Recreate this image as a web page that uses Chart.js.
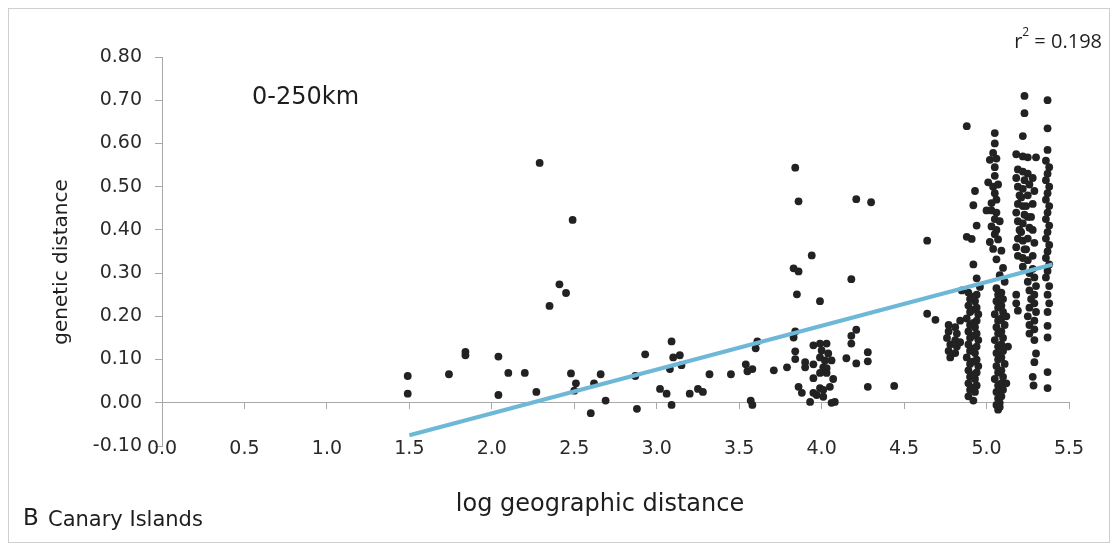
<!DOCTYPE html>
<html lang="en">
<head>
<meta charset="UTF-8">
<title>Canary Islands - genetic vs log geographic distance</title>
<script src="https://cdn.jsdelivr.net/npm/chart.js"></script>
<style>
  body { margin: 0; background: #fff; }
  #wrap { width: 1118px; height: 550px; position: relative; }
</style>
</head>
<body>
<div id="wrap"><canvas id="distChart"></canvas></div>
<script>
// [log geographic distance, genetic distance] pairs
const ptsSpread = [
  [1.49,0.062],[1.49,0.021],[1.74,0.066],[1.84,0.118],[1.84,0.110],[2.04,0.107],[2.04,0.018],
  [2.10,0.069],[2.20,0.069],[2.27,0.025],[2.29,0.555],[2.35,0.224],[2.41,0.274],[2.45,0.254],
  [2.49,0.423],[2.48,0.068],[2.51,0.045],[2.50,0.028],[2.60,-0.024],[2.62,0.045],[2.66,0.066],
  [2.69,0.005],[2.87,0.062],[2.88,-0.014],[2.93,0.112],[3.02,0.032],[3.06,0.021],[3.08,0.078],
  [3.09,-0.005],[3.09,0.142],[3.10,0.105],[3.14,0.110],[3.15,0.087],[3.20,0.021],[3.25,0.032],
  [3.28,0.025],[3.32,0.066],[3.45,0.066],[3.54,0.089],[3.55,0.073],[3.58,0.078],[3.57,0.005],
  [3.58,-0.005],[3.60,0.126],[3.61,0.142],[3.71,0.075],
  [3.84,0.544],[3.86,0.466],[4.21,0.471],[4.30,0.464],
  [3.94,0.341],[3.83,0.311],[3.86,0.304],[4.18,0.286],[3.85,0.251],[3.99,0.235],[3.84,0.165],
  [3.83,0.151],[4.21,0.169],[4.18,0.155],[4.18,0.137],[3.84,0.119],[3.84,0.101],[3.79,0.082],
  [3.90,0.094],[3.90,0.082],[3.95,0.089],[3.95,0.133],[3.99,0.137],[4.03,0.137],[4.00,0.121],
  [4.04,0.114],[3.99,0.105],[4.02,0.098],[4.06,0.098],[4.01,0.082],[4.03,0.080],[3.99,0.069],
  [4.03,0.069],[3.95,0.057],[4.07,0.055],[3.86,0.037],[3.88,0.023],[3.95,0.023],[3.97,0.018],
  [3.99,0.034],[4.01,0.030],[4.05,0.037],[4.01,0.014],[3.93,0.002],[4.06,0.000],[4.08,0.002],
  [4.15,0.103],[4.21,0.091],[4.28,0.117],[4.28,0.096],[4.28,0.037],[4.44,0.039],
  [4.64,0.375],[4.64,0.206],[4.69,0.192]
];
const ptsBand48 = [
  [4.77,0.180],[4.77,0.165],[4.76,0.150],[4.78,0.135],[4.77,0.120],[4.78,0.105],[4.81,0.175],
  [4.82,0.160],[4.81,0.145],[4.82,0.130],[4.81,0.115],[4.84,0.190],[4.85,0.260],[4.84,0.140]
];
const ptsBand49 = [
  [4.88,0.640],[4.93,0.490],[4.92,0.457],[4.94,0.410],[4.88,0.384],[4.91,0.379],[4.92,0.320],
  [4.94,0.288],[4.96,0.268],
  [4.89,0.255],[4.90,0.240],[4.89,0.225],[4.90,0.210],[4.88,0.195],[4.90,0.180],[4.89,0.165],
  [4.90,0.150],[4.89,0.135],[4.90,0.120],[4.88,0.105],[4.90,0.090],[4.89,0.075],[4.90,0.060],
  [4.89,0.045],[4.90,0.030],[4.89,0.015],
  [4.94,0.250],[4.93,0.235],[4.94,0.220],[4.95,0.205],[4.94,0.190],[4.93,0.175],[4.94,0.160],
  [4.95,0.145],[4.94,0.130],[4.93,0.115],[4.94,0.100],[4.95,0.085],[4.94,0.070],[4.93,0.055],
  [4.94,0.040],[4.93,0.025],[4.92,0.005],
  [4.915,0.245],[4.915,0.215],[4.92,0.185],[4.915,0.155],[4.92,0.125],[4.915,0.095],
  [4.92,0.065],[4.915,0.035]
];
const ptsBand50 = [
  [5.05,0.624],[5.05,0.600],[5.04,0.578],[5.02,0.562],[5.06,0.565],[5.05,0.545],[5.05,0.525],
  [5.01,0.510],[5.04,0.500],[5.07,0.505],[5.05,0.485],[5.03,0.462],[5.06,0.470],[5.00,0.445],
  [5.03,0.445],[5.06,0.440],[5.05,0.425],[5.08,0.420],[5.03,0.408],[5.06,0.400],[5.05,0.390],
  [5.02,0.372],[5.07,0.378],[5.04,0.356],[5.09,0.352],[5.06,0.332],[5.10,0.312],[5.08,0.295],
  [5.06,0.265],[5.07,0.250],[5.06,0.235],[5.07,0.220],[5.05,0.205],[5.07,0.190],[5.06,0.175],
  [5.07,0.160],[5.05,0.145],[5.07,0.130],[5.06,0.115],[5.07,0.100],[5.06,0.085],[5.07,0.070],
  [5.05,0.055],[5.07,0.040],[5.06,0.025],[5.07,0.010],[5.06,-0.005],[5.07,-0.016],
  [5.09,0.255],[5.10,0.240],[5.09,0.225],[5.10,0.210],[5.09,0.195],[5.11,0.180],[5.09,0.165],
  [5.10,0.150],[5.09,0.135],[5.10,0.120],[5.09,0.105],[5.11,0.090],[5.09,0.075],[5.10,0.060],
  [5.09,0.045],[5.10,0.030],[5.09,0.015],[5.08,0.000],[5.08,-0.010],
  [5.12,0.200],[5.13,0.130],[5.12,0.045],[5.11,0.280]
];
const ptsBand52 = [
  [5.23,0.710],[5.23,0.670],[5.22,0.617],[5.18,0.575],[5.22,0.570],[5.25,0.568],[5.30,0.568],
  [5.19,0.540],[5.18,0.520],[5.19,0.500],[5.20,0.480],[5.19,0.460],[5.18,0.440],[5.19,0.420],
  [5.20,0.400],[5.19,0.380],[5.18,0.360],[5.19,0.340],
  [5.22,0.535],[5.23,0.515],[5.22,0.495],[5.21,0.475],[5.22,0.455],[5.23,0.435],[5.22,0.415],
  [5.21,0.395],[5.22,0.375],[5.23,0.355],[5.22,0.335],[5.22,0.315],
  [5.25,0.530],[5.26,0.505],[5.25,0.480],[5.24,0.455],[5.25,0.430],[5.26,0.405],[5.25,0.380],
  [5.24,0.355],[5.25,0.330],
  [5.28,0.520],[5.29,0.490],[5.28,0.460],[5.27,0.430],[5.28,0.400],[5.29,0.370],[5.28,0.340],
  [5.28,0.310],
  [5.26,0.300],[5.25,0.280],[5.26,0.260],[5.27,0.240],[5.26,0.220],[5.25,0.200],[5.26,0.180],
  [5.26,0.160],
  [5.29,0.290],[5.30,0.270],[5.29,0.250],[5.29,0.230],[5.30,0.210],[5.29,0.190],[5.29,0.170],
  [5.29,0.145],
  [5.18,0.250],[5.18,0.230],[5.19,0.213],
  [5.30,0.114],[5.29,0.094],[5.28,0.060],[5.285,0.040]
];
const ptsBand54 = [
  [5.37,0.700],[5.37,0.635],[5.37,0.585],[5.36,0.560],[5.38,0.545],[5.37,0.530],[5.36,0.515],
  [5.38,0.500],[5.37,0.485],[5.36,0.470],[5.38,0.455],[5.37,0.440],[5.36,0.425],[5.38,0.410],
  [5.37,0.395],[5.36,0.380],[5.38,0.365],[5.37,0.350],[5.36,0.335],[5.38,0.320],[5.37,0.305],
  [5.36,0.290],[5.38,0.270],[5.37,0.250],[5.38,0.230],[5.37,0.210],[5.37,0.178],[5.37,0.151],
  [5.37,0.071],[5.37,0.034]
];

// linear trend (r2 = 0.198), end points
const trendX = [1.5, 5.4];
const trendY = [-0.075, 0.320];
const r2Text = '0.198';

const allPts = [].concat(ptsSpread, ptsBand48, ptsBand49, ptsBand50, ptsBand52, ptsBand54)
  .map(p => ({x: p[0], y: p[1]}));
const trendPts = trendX.map((x, i) => ({x: x, y: trendY[i]}));

const tickFont = {family: '"DejaVu Sans"', size: 19};
const axisGrey = '#a8a8a8';

// free text and outer frame drawn on top
const notes = {
  id: 'notes',
  afterDraw(chart) {
    const c = chart.ctx;
    c.save();
    c.strokeStyle = '#cfcfcf';
    c.lineWidth = 1;
    c.strokeRect(8.5, 8.5, 1101, 534);

    c.fillStyle = '#1e1e1e';
    c.textBaseline = 'middle';
    c.textAlign = 'left';
    c.font = '24px "DejaVu Sans"';
    c.fillText('0-250km', 252, 98);

    c.font = '21px "DejaVu Sans"';
    c.fillText('Canary Islands', 48, 521);
    c.font = '23px "DejaVu Sans"';
    c.fillText('B', 23, 519);

    c.textAlign = 'center';
    c.font = '24px "DejaVu Sans"';
    c.fillText('log geographic distance', 600, 505);

    c.save();
    c.translate(62, 262);
    c.rotate(-Math.PI / 2);
    c.font = '20px "DejaVu Sans"';
    c.fillText('genetic distance', 0, 0);
    c.restore();

    // r squared, right aligned
    c.textAlign = 'left';
    c.font = '20px "Open Sans"';
    const rest = ' = ' + r2Text;
    const wr = c.measureText('r').width;
    const wRest = c.measureText(rest).width;
    c.font = '12px "Open Sans"';
    const w2 = c.measureText('2').width;
    const x0 = 1102 - wr - w2 - wRest;
    c.font = '20px "Open Sans"';
    c.fillText('r', x0, 42);
    c.fillText(rest, x0 + wr + w2, 42);
    c.font = '12px "Open Sans"';
    c.fillText('2', x0 + wr, 33);
    c.restore();
  }
};

new Chart(document.getElementById('distChart'), {
  type: 'scatter',
  data: {
    datasets: [
      {
        type: 'line',
        label: 'trend',
        data: trendPts,
        borderColor: '#6cb8d6',
        borderWidth: 4,
        pointRadius: 0,
        order: 0
      },
      {
        label: 'pairs',
        data: allPts,
        backgroundColor: '#222222',
        borderWidth: 0,
        pointRadius: 3.9,
        order: 1
      }
    ]
  },
  options: {
    responsive: true,
    maintainAspectRatio: false,
    animation: false,
    layout: { padding: { top: 57, right: 49, bottom: 0, left: 0 } },
    plugins: { legend: { display: false }, tooltip: { enabled: false } },
    scales: {
      // data axis, only reserves room under the plot
      x: {
        type: 'linear',
        position: 'bottom',
        min: 0, max: 5.5,
        ticks: { stepSize: 0.5, display: false },
        grid: { display: false, drawTicks: false },
        border: { display: false },
        afterFit: s => { s.height = 104; }
      },
      // tick labels sit on the -0.10 line, like the original
      xLab: {
        type: 'linear',
        axis: 'x',
        position: { y: -0.1 },
        min: 0, max: 5.5,
        ticks: { stepSize: 0.5, font: tickFont, color: '#2a2a2a', padding: -8,
                 callback: v => v.toFixed(1) },
        grid: { display: false, drawTicks: false },
        border: { display: false },
        afterFit: s => { s.height = 0; }
      },
      // visible axis line crossing at 0
      x0: {
        type: 'linear',
        axis: 'x',
        position: { y: 0 },
        min: 0, max: 5.5,
        ticks: { stepSize: 0.5, display: false },
        grid: { drawOnChartArea: false, tickLength: 6, color: axisGrey },
        border: { color: axisGrey },
        afterFit: s => { s.height = 0; }
      },
      y: {
        position: 'left',
        min: -0.1, max: 0.8,
        ticks: { stepSize: 0.1, font: tickFont, color: '#2a2a2a', padding: 13,
                 callback: v => v.toFixed(2) },
        grid: { drawOnChartArea: false, tickLength: 7, color: axisGrey },
        border: { color: axisGrey },
        afterFit: s => { s.width = 162; }
      }
    }
  },
  plugins: [notes]
});
</script>
</body>
</html>
